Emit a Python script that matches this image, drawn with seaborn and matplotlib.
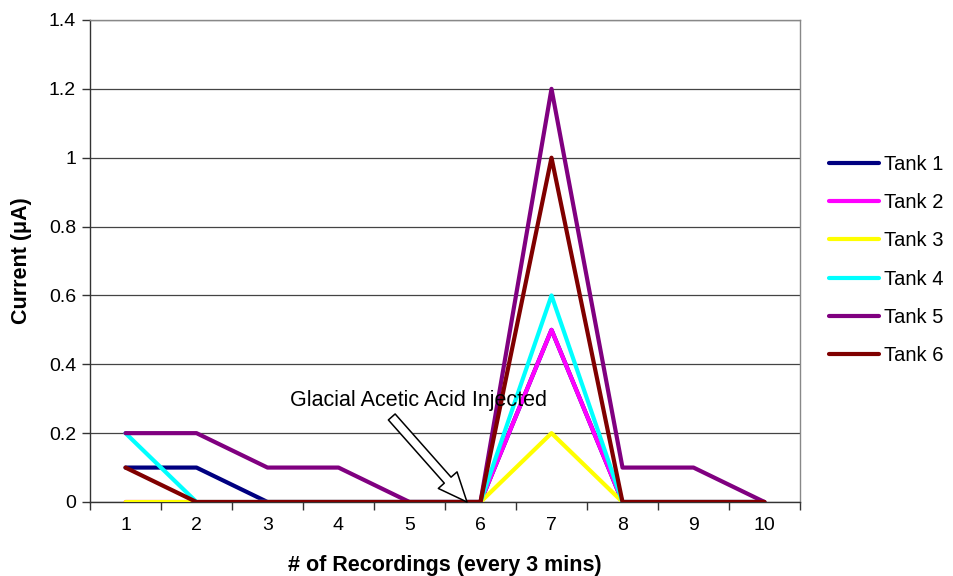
import matplotlib
matplotlib.use("Agg")
import matplotlib.pyplot as plt
import seaborn as sns
import pandas as pd

recordings = [1, 2, 3, 4, 5, 6, 7, 8, 9, 10]
tank1 = [0.1, 0.1, 0, 0, 0, 0, 0.5, 0, 0, 0]
tank2 = [0, 0, 0, 0, 0, 0, 0.5, 0, 0, 0]
tank3 = [0, 0, 0, 0, 0, 0, 0.2, 0, 0, 0]
tank4 = [0.2, 0, 0, 0, 0, 0, 0.6, 0, 0, 0]
tank5 = [0.2, 0.2, 0.1, 0.1, 0, 0, 1.2, 0.1, 0.1, 0]
tank6 = [0.1, 0, 0, 0, 0, 0, 1.0, 0, 0, 0]
tank_names = ["Tank 1", "Tank 2", "Tank 3", "Tank 4", "Tank 5", "Tank 6"]
colors = ["#000080", "#FF00FF", "#FFFF00", "#00FFFF", "#800080", "#800000"]

series = [tank1, tank2, tank3, tank4, tank5, tank6]
df = pd.concat(
    [pd.DataFrame({"Recording": recordings, "Current": vals, "Tank": name})
     for name, vals in zip(tank_names, series)],
    ignore_index=True,
)

sns.set_style("white")
plt.rcParams["font.family"] = ["Liberation Sans", "DejaVu Sans"]
plt.rcParams["text.color"] = "black"
plt.rcParams["axes.labelcolor"] = "black"
plt.rcParams["xtick.color"] = "black"
plt.rcParams["ytick.color"] = "black"

fig = plt.figure(figsize=(9.54, 5.76), dpi=100)
ax = fig.add_axes([90 / 954, 1 - 502 / 576, 710 / 954, 482 / 576])

sns.lineplot(data=df, x="Recording", y="Current", hue="Tank",
             palette=colors, hue_order=tank_names, linewidth=3,
             ax=ax, legend=True, zorder=3)

ax.set_xlim(0.5, 10.5)
ax.set_ylim(0, 1.4)
ax.set_yticks([0, 0.2, 0.4, 0.6, 0.8, 1.0, 1.2, 1.4])
ax.set_yticklabels(["0", "0.2", "0.4", "0.6", "0.8", "1", "1.2", "1.4"])
ax.set_xticks(recordings)
ax.set_xticklabels([str(r) for r in recordings])
ax.set_xticks([r + 0.5 for r in range(0, 11)], minor=True)
ax.tick_params(axis="x", which="major", length=0, labelsize=14, pad=11)
ax.tick_params(axis="x", which="minor", length=6, width=1, color="#333333",
               direction="out", bottom=True)
ax.tick_params(axis="y", length=6, width=1, color="#333333", direction="out",
               left=True, labelsize=14, pad=4, labelcolor="black")
ax.tick_params(axis="x", labelcolor="black")

ax.yaxis.grid(True, color="#444444", linewidth=0.9, zorder=0)
ax.xaxis.grid(False)
for side in ["top", "right"]:
    ax.spines[side].set_color("#888888")
    ax.spines[side].set_linewidth(1)
for side in ["left", "bottom"]:
    ax.spines[side].set_color("#333333")
    ax.spines[side].set_linewidth(1)

ax.set_xlabel("# of Recordings (every 3 mins)", fontsize=15.5,
              fontweight="bold", color="black")
ax.set_ylabel("Current (μA)", fontsize=15.5, fontweight="bold",
              color="black")
ax.xaxis.set_label_coords(0.5, (502 - 555) / 482)
ax.yaxis.set_label_coords((32 - 90) / 710, 0.5)

# Injection marker: hollow block arrow with caption
ax.text(5.12, 0.296, "Glacial Acetic Acid Injected", fontsize=15.5,
        ha="center", va="center", color="black", zorder=5)
ax.annotate("", xy=(5.81, 0.0), xytext=(4.75, 0.247),
            arrowprops=dict(arrowstyle="simple,head_length=2.1,head_width=1.8,tail_width=0.65",
                            mutation_scale=10, facecolor="white",
                            edgecolor="black", linewidth=1.1,
                            shrinkA=0, shrinkB=0),
            zorder=5)

handles, labels = ax.get_legend_handles_labels()
leg = ax.legend(handles, labels, loc="center left",
                bbox_to_anchor=(829 / 954, 1 - 260 / 576),
                bbox_transform=fig.transFigure, frameon=False, fontsize=14.5,
                handlelength=2.5, handletextpad=0.25, labelspacing=0.95,
                borderpad=0, borderaxespad=0)
for t in leg.get_texts():
    t.set_color("black")

fig.savefig("out.png", dpi=100)
